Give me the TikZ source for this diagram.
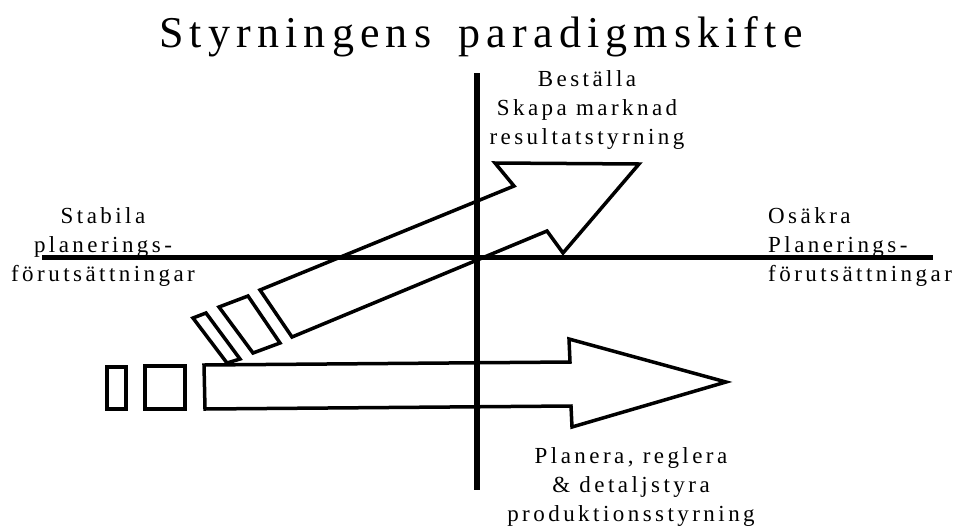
\documentclass[tikz,border=0pt]{standalone}
\usepackage{fontspec}
\setmainfont{Liberation Serif}
\newfontfamily\spacedfont[LetterSpace=15]{Liberation Serif}
\newfontfamily\titlefont[LetterSpace=14, WordSpace=1.6]{Liberation Serif}

\begin{document}
\begin{tikzpicture}[x=1pt, y=-1pt,
  axis/.style={line width=5pt},
  blockarrow/.style={line width=3.5pt, line join=miter},
  lbl/.style={inner sep=0pt, align=center, font=\spacedfont\fontsize{23}{29}\selectfont}]
  \useasboundingbox (0,0) rectangle (955,525);

  % title
  \node[inner sep=0pt, anchor=base, font=\titlefont\fontsize{44}{52}\selectfont] (title) at (481,47) {Styrningens paradigmskifte};

  % axes
  \coordinate (west) at (42,257);
  \coordinate (east) at (933,257);
  \coordinate (north) at (477,73);
  \coordinate (south) at (477,490);
  \draw[axis] (west) -- (east);
  \draw[axis, line width=6pt] (north) -- (south);

  % labels
  \node[lbl, anchor=north] (stabila) at (103,207) {Stabila\\planerings-\\förutsättningar};
  \node[lbl, align=left, anchor=north west] (osakra) at (768,207) {Osäkra\\Planerings-\\förutsättningar};
  \node[lbl, anchor=north] (bestalla) at (587,70) {Beställa\\Skapa marknad\\resultatstyrning};
  \node[lbl, anchor=north] (planera) at (631,447) {Planera, reglera\\\& detaljstyra\\produktionsstyrning};

  % upper arrow, tilted
  \draw[blockarrow] (260,290) -- (514,186) -- (495,163) -- (639,164) -- (563,253) -- (547,231) -- (292,337) -- cycle;
  \draw[blockarrow] (219,307) -- (248,296) -- (280,343) -- (253,353) -- cycle;
  \draw[blockarrow] (193,318) -- (206,313) -- (240,359) -- (227,363) -- cycle;

  % lower arrow, flat
  \draw[blockarrow] (204,365) -- (570,362) -- (569,339) -- (726,382) -- (572,427) -- (571,406) -- (205,409) -- cycle;
  \draw[blockarrow] (145,366) rectangle (185,409);
  \draw[blockarrow] (107,367) rectangle (126,409);
\end{tikzpicture}
\end{document}
